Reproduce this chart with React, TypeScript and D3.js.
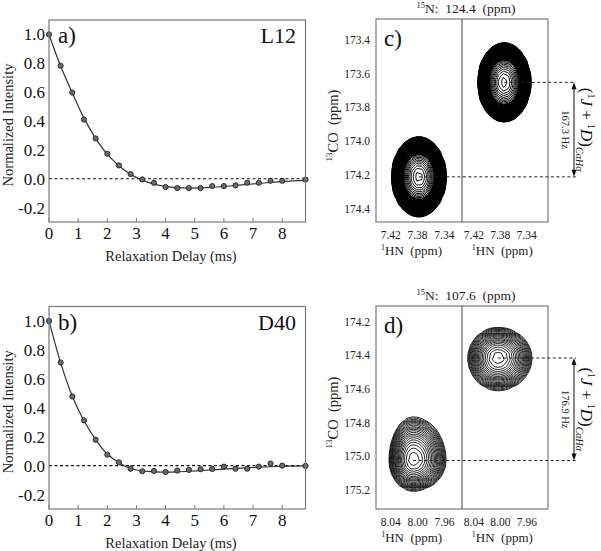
import React from 'react';
import * as d3 from 'd3';

// ---------- Relaxation decay data (panels a, b) ----------
const delays = [0, 0.4, 0.8, 1.2, 1.6, 2.0, 2.4, 2.8, 3.2, 3.6, 4.0, 4.4, 4.8, 5.2, 5.6, 6.0, 6.4, 6.8, 7.2, 7.6, 8.0, 8.8];
const intensityL12 = [1.0, 0.783, 0.597, 0.41, 0.279, 0.173, 0.092, 0.032, -0.005, -0.028, -0.058, -0.065, -0.065, -0.065, -0.051, -0.051, -0.046, -0.028, -0.028, -0.014, -0.014, -0.006];
const intensityD40 = [1.0, 0.713, 0.478, 0.313, 0.179, 0.076, 0.023, -0.021, -0.039, -0.037, -0.044, -0.034, -0.03, -0.025, -0.023, -0.007, -0.021, -0.021, -0.007, 0.014, 0.0, -0.002];
const fitDelays = [0, 0.4, 0.8, 1.2, 1.6, 2.0, 2.4, 2.8, 3.2, 3.6, 4.0, 4.4, 4.8, 5.2, 5.6, 6.0, 6.4, 6.8, 7.2, 7.6, 8.0, 8.4, 8.8];
const fitL12 = [1.0, 0.78, 0.595, 0.42, 0.28, 0.17, 0.09, 0.03, -0.01, -0.037, -0.053, -0.062, -0.065, -0.064, -0.06, -0.054, -0.047, -0.04, -0.033, -0.026, -0.02, -0.015, -0.011];
const fitD40 = [1.0, 0.71, 0.48, 0.31, 0.18, 0.08, 0.02, -0.02, -0.037, -0.044, -0.045, -0.043, -0.039, -0.034, -0.029, -0.024, -0.019, -0.015, -0.011, -0.008, -0.005, -0.003, -0.002];
const decayYTicks = [1.0, 0.8, 0.6, 0.4, 0.2, 0.0, -0.2];
const decayXTicks = [0, 1, 2, 3, 4, 5, 6, 7, 8];

// ---------- Spectra (panels c, d) ----------
const cHNTicks = [7.42, 7.38, 7.34];
const cCOTicks = [173.4, 173.6, 173.8, 174.0, 174.2, 174.4];
const dHNTicks = [8.04, 8.0, 7.96];
const dCOTicks = [174.2, 174.4, 174.6, 174.8, 175.0, 175.2];
// peak centres [left sub-spectrum, right sub-spectrum]
const cPeakHN = [7.378, 7.374];
const cPeakCO = [174.212, 173.651];
const cPeakWidthHN = [[0.0152, 0.0152], [0.015, 0.015]]; // [downfield side, upfield side]
const cPeakWidthCO = [[0.09, 0.09], [0.089, 0.089]]; // [upper side, lower side]
const dPeakHN = [8.0068, 8.0038];
const dPeakCO = [175.025, 174.416];
const dPeakWidthHN = [[0.0151, 0.0207], [0.0192, 0.0218]];
const dPeakWidthCO = [[0.1077, 0.075], [0.075, 0.08]];
const cCoupling = '167.3 Hz';
const dCoupling = '176.9 Hz';

const FONT = '"Liberation Serif", "Times New Roman", serif';

function DecayPanel({ top, bottom, values, fit, tag, name }: any) {
  const x = d3.scaleLinear().domain([0, 8.8]).range([49, 305.5]);
  const y = d3.scaleLinear().domain([-0.3, 1.1]).range([bottom, top]);
  const line = d3
    .line<number>()
    .x((_, i) => x(fitDelays[i]))
    .y((d) => y(d))
    .curve(d3.curveCatmullRom);
  const midY = (top + bottom) / 2 + 4;
  return (
    <g fontFamily={FONT}>
      <line x1={x(0)} x2={x(8.8)} y1={y(0)} y2={y(0)} stroke="#111" strokeWidth={1.1} strokeDasharray="3,2.5" />
      <path d={line(fit) || ''} fill="none" stroke="#333" strokeWidth={1.2} />
      {values.map((v: number, i: number) => (
        <circle key={i} cx={x(delays[i])} cy={y(v)} r={2.6} fill="#6a6a6a" stroke="#222" strokeWidth={0.9} />
      ))}
      <rect x={x(0)} y={top} width={x(8.8) - x(0)} height={bottom - top} fill="none" stroke="#7a7a7a" strokeWidth={1.2} />
      {decayXTicks.map((t) => (
        <g key={t}>
          <line x1={x(t)} x2={x(t)} y1={bottom} y2={bottom - 4} stroke="#7a7a7a" strokeWidth={1} />
          <text x={x(t)} y={bottom + 17} fontSize={17} textAnchor="middle" fill="#111">
            {t}
          </text>
        </g>
      ))}
      {decayYTicks.map((t) => (
        <text key={t} x={45} y={y(t) + 6} fontSize={17} textAnchor="end" fill="#111">
          {t.toFixed(1)}
        </text>
      ))}
      <text x={171} y={bottom + 39} fontSize={14.5} textAnchor="middle" fill="#222">
        Relaxation Delay (ms)
      </text>
      <text transform={`translate(13,${midY}) rotate(-90)`} fontSize={14.5} textAnchor="middle" fill="#222">
        Normalized Intensity
      </text>
      <text x={58} y={top + 23} fontSize={23} fill="#111">
        {tag}
      </text>
      <text x={296} y={top + 23} fontSize={22} textAnchor="end" fill="#111">
        {name}
      </text>
    </g>
  );
}

function peakValue(h: number, co: number, h0: number, co0: number, wh: number[], wc: number[]) {
  const dh = h - h0;
  const dc = co - co0;
  const sh = dh > 0 ? wh[0] : wh[1];
  const sc = dc < 0 ? wc[0] : wc[1];
  return Math.exp(-(dh * dh) / (2 * sh * sh) - (dc * dc) / (2 * sc * sc));
}

function contourPaths(xs: any, ys: any, hn: number, co: number, wh: number[], wc: number[], stepH: number, stepC: number, levels: number[]) {
  const [ha, hb] = xs.domain();
  const [ca, cb] = ys.domain();
  const hmin = Math.min(ha, hb);
  const hmax = Math.max(ha, hb);
  const cmin = Math.min(ca, cb);
  const cmax = Math.max(ca, cb);
  const nx = Math.ceil((hmax - hmin) / stepH) + 1;
  const ny = Math.ceil((cmax - cmin) / stepC) + 1;
  const vals = new Array(nx * ny);
  for (let j = 0; j < ny; j++) {
    for (let i = 0; i < nx; i++) {
      vals[j * nx + i] = peakValue(hmin + i * stepH, cmin + j * stepC, hn, co, wh, wc);
    }
  }
  const cs = d3.contours().size([nx, ny]).thresholds(levels)(vals);
  const proj = d3.geoTransform({
    point(px: number, py: number) {
      (this as any).stream.point(xs(hmin + (px - 0.5) * stepH), ys(cmin + (py - 0.5) * stepC));
    },
  });
  const path = d3.geoPath(proj as any);
  return cs.map((c) => path(c as any) || '');
}

function SpectrumPanel({ top, bottom, coDomain, hnLeft, hnRight, hnTicks, coTicks, peakHN, peakCO, widthHN, widthCO, tag, nValue, coupling, stepH, stepC, levels, id, lw }: any) {
  const L = 376, M = 462, R = 548;
  const ys = d3.scaleLinear().domain(coDomain).range([top, bottom]);
  const xsL = d3.scaleLinear().domain(hnLeft).range([L, M]);
  const xsR = d3.scaleLinear().domain(hnRight).range([M, R]);
  const pathsL = contourPaths(xsL, ys, peakHN[0], peakCO[0], widthHN[0], widthCO[0], stepH, stepC, levels);
  const pathsR = contourPaths(xsR, ys, peakHN[1], peakCO[1], widthHN[1], widthCO[1], stepH, stepC, levels);
  const yLow = ys(peakCO[0]);
  const yHigh = ys(peakCO[1]);
  const arrowX = 574;
  const midY = (yLow + yHigh) / 2;
  return (
    <g fontFamily={FONT}>
      <defs>
        <clipPath id={`${id}-l`}>
          <rect x={L} y={top} width={M - L} height={bottom - top} />
        </clipPath>
        <clipPath id={`${id}-r`}>
          <rect x={M} y={top} width={R - M} height={bottom - top} />
        </clipPath>
      </defs>
      <g clipPath={`url(#${id}-l)`}>
        {pathsL.map((d, i) => (
          <path key={i} d={d} fill="none" stroke="#000" strokeWidth={lw} />
        ))}
      </g>
      <g clipPath={`url(#${id}-r)`}>
        {pathsR.map((d, i) => (
          <path key={i} d={d} fill="none" stroke="#000" strokeWidth={lw} />
        ))}
      </g>
      <rect x={L} y={top} width={R - L} height={bottom - top} fill="none" stroke="#7a7a7a" strokeWidth={1.2} />
      <line x1={M} x2={M} y1={top} y2={bottom} stroke="#555" strokeWidth={1.1} />
      <line x1={xsL(peakHN[0])} x2={arrowX + 2} y1={yLow} y2={yLow} stroke="#222" strokeWidth={1} strokeDasharray="3,2.5" />
      <line x1={xsR(peakHN[1])} x2={arrowX + 2} y1={yHigh} y2={yHigh} stroke="#222" strokeWidth={1} strokeDasharray="3,2.5" />
      <line x1={arrowX} x2={arrowX} y1={yHigh + 5} y2={yLow - 5} stroke="#111" strokeWidth={1} />
      <path d={`M${arrowX},${yHigh} L${arrowX - 2.5},${yHigh + 7} L${arrowX + 2.5},${yHigh + 7} Z`} fill="#111" />
      <path d={`M${arrowX},${yLow} L${arrowX - 2.5},${yLow - 7} L${arrowX + 2.5},${yLow - 7} Z`} fill="#111" />
      <text transform={`translate(561.5,${midY}) rotate(90)`} fontSize={10.5} textAnchor="middle" fill="#222">
        {coupling}
      </text>
      <text transform={`translate(581,${midY}) rotate(90)`} fontSize={17} textAnchor="middle" fill="#111">
        <tspan>(</tspan>
        <tspan fontSize={10} dy={-7}>1</tspan>
        <tspan fontStyle="italic" dy={7}>J</tspan>
        <tspan> + </tspan>
        <tspan fontSize={10} dy={-7}>1</tspan>
        <tspan fontStyle="italic" dy={7}>D</tspan>
        <tspan>)</tspan>
        <tspan fontSize={10} fontStyle="italic" dy={5}>CαHα</tspan>
      </text>
      {coTicks.map((t: number) => (
        <text key={t} x={370} y={ys(t) + 4} fontSize={11.5} textAnchor="end" fill="#222">
          {t.toFixed(1)}
        </text>
      ))}
      {hnTicks.map((t: number) => (
        <g key={t}>
          <text x={xsL(t)} y={bottom + 17} fontSize={11.5} textAnchor="middle" fill="#222">
            {t.toFixed(2)}
          </text>
          <text x={xsR(t)} y={bottom + 17} fontSize={11.5} textAnchor="middle" fill="#222">
            {t.toFixed(2)}
          </text>
        </g>
      ))}
      {[xsL(hnTicks[1]) - 6, xsR(hnTicks[1]) + 2].map((cx, i) => (
        <text key={i} x={cx} y={bottom + 33} fontSize={13} textAnchor="middle" fill="#222" xmlSpace="preserve">
          <tspan fontSize={8} dy={-5}>1</tspan>
          <tspan dy={5}>{'HN  (ppm)'}</tspan>
        </text>
      ))}
      <text x={466} y={top - 6} fontSize={13.5} textAnchor="middle" fill="#222" xmlSpace="preserve">
        <tspan fontSize={8.5} dy={-5}>15</tspan>
        <tspan dy={5}>{`N:  ${nValue}  (ppm)`}</tspan>
      </text>
      <text transform={`translate(338,${(top + bottom) / 2 + 5}) rotate(-90)`} fontSize={14.5} textAnchor="middle" fill="#222" xmlSpace="preserve">
        <tspan fontSize={9} dy={-6}>13</tspan>
        <tspan dy={6}>{'CO  (ppm)'}</tspan>
      </text>
      <text x={384} y={top + 27} fontSize={23} fill="#111">
        {tag}
      </text>
    </g>
  );
}

// contour levels: dense outer set + sparser inner set
const cLevels = [
  ...d3.range(0, 62).map((k) => 0.03 * Math.pow(1.04, k)),
  ...d3.range(0, 10).map((k) => 0.34 * Math.pow(1.12, k)),
];
const dLevels = d3.range(0, 21).map((k) => 0.06 * Math.pow(1.145, k));

export default function App() {
  return (
    <svg width={601} height={551} style={{ position: 'absolute', left: 0, top: 0, background: '#fff' }}>
      <rect x={0} y={0} width={601} height={551} fill="#fff" />
      <DecayPanel top={20} bottom={222} values={intensityL12} fit={fitL12} tag="a)" name="L12" />
      <DecayPanel top={306.5} bottom={509} values={intensityD40} fit={fitD40} tag="b)" name="D40" />
      <SpectrumPanel
        id="c"
        top={19}
        bottom={222}
        coDomain={[173.275, 174.48]}
        hnLeft={[7.442, 7.3136]}
        hnRight={[7.438, 7.3077]}
        hnTicks={cHNTicks}
        coTicks={cCOTicks}
        peakHN={cPeakHN}
        peakCO={cPeakCO}
        widthHN={cPeakWidthHN}
        widthCO={cPeakWidthCO}
        tag="c)"
        nValue="124.4"
        coupling={cCoupling}
        stepH={0.0075}
        stepC={0.012}
        levels={cLevels}
        lw={1}
      />
      <SpectrumPanel
        id="d"
        top={306}
        bottom={509}
        coDomain={[174.107, 175.313]}
        hnLeft={[8.062, 7.934]}
        hnRight={[8.058, 7.928]}
        hnTicks={dHNTicks}
        coTicks={dCOTicks}
        peakHN={dPeakHN}
        peakCO={dPeakCO}
        widthHN={dPeakWidthHN}
        widthCO={dPeakWidthCO}
        tag="d)"
        nValue="107.6"
        coupling={dCoupling}
        stepH={0.004}
        stepC={0.04}
        levels={dLevels}
        lw={0.85}
      />
    </svg>
  );
}
